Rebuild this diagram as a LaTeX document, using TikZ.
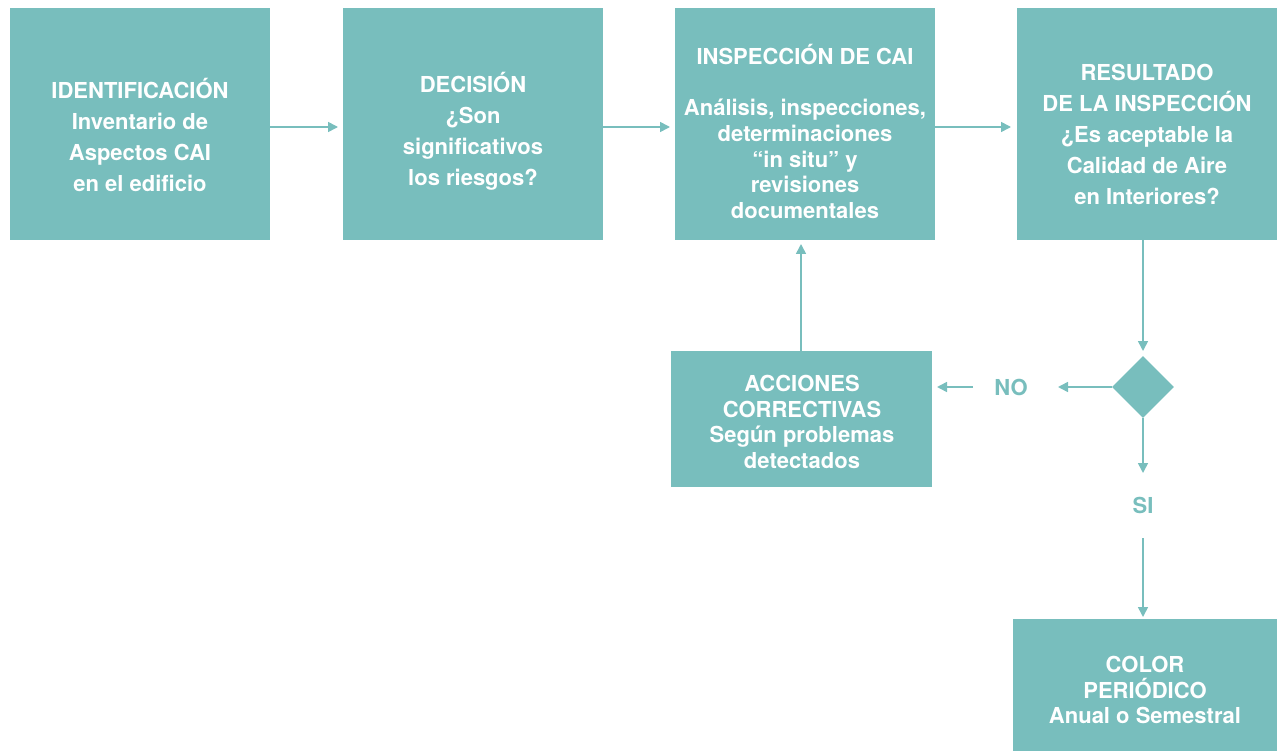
\documentclass[tikz,border=0pt]{standalone}
\usepackage{fontspec}
\setmainfont{TeX Gyre Heros}
\usetikzlibrary{arrows.meta,shapes.geometric}
\definecolor{teal1}{HTML}{78BEBD}
\tikzset{
  box/.style={fill=teal1, draw=none, inner sep=0pt, anchor=north west},
  btxt/.style={text=white, align=center, font=\bfseries\fontsize{22}{31}\selectfont, inner sep=0pt},
  btxts/.style={text=white, align=center, font=\bfseries\fontsize{22}{25.7}\selectfont, inner sep=0pt},
  lbl/.style={text=teal1, font=\bfseries\fontsize{22}{26}\selectfont, inner sep=0pt},
  conn/.style={draw=teal1, line width=1.6pt, -{Triangle[length=10pt,width=10pt]}}
}
\begin{document}
\begin{tikzpicture}[x=1pt,y=-1pt]
\useasboundingbox (0,0) rectangle (1277,751);
% boxes
\node[box, minimum width=260pt, minimum height=232pt] (b1) at (10,8) {};
\node[box, minimum width=260pt, minimum height=232pt] (b2) at (343,8) {};
\node[box, minimum width=260pt, minimum height=232pt] (b3) at (675,8) {};
\node[box, minimum width=260pt, minimum height=232pt] (b4) at (1017,8) {};
\node[box, minimum width=261pt, minimum height=136pt] (b5) at (671,351) {};
\node[box, minimum width=264pt, minimum height=140pt] (b6) at (1013,619) {};
\node[diamond, fill=teal1, minimum width=62pt, minimum height=62pt, inner sep=0pt] (d) at (1143,387) {};
% texts
\node[btxt] (t1) at (140,134.5) {IDENTIFICACIÓN\\Inventario de\\Aspectos CAI\\en el edificio};
\node[btxt] (t2) at (473,131.5) {DECISIÓN\\¿Son\\significativos\\los riesgos?};
\node[btxts] (t3) at (805,131.5) {INSPECCIÓN DE CAI\\[25.7pt]Análisis, inspecciones,\\determinaciones\\“in situ” y\\revisiones\\documentales};
\node[btxt] (t4) at (1147,134) {RESULTADO\\DE LA INSPECCIÓN\\¿Es aceptable la\\Calidad de Aire\\en Interiores?};
\node[btxts] (t5) at (802,422) {ACCIONES\\CORRECTIVAS\\Según problemas\\detectados};
\node[btxts] (t6) at (1145,690) {COLOR\\PERIÓDICO\\Anual o Semestral};
\node[lbl] (no) at (1011,387) {NO};
\node[lbl] (si) at (1143,505) {SI};
% connectors
\coordinate (a1e) at (338,127);
\coordinate (a2e) at (670,127);
\coordinate (a3e) at (1011,127);
\draw[conn] (b1.east |- 0,127) -- (a1e);
\draw[conn] (b2.east |- 0,127) -- (a2e);
\draw[conn] (b3.east |- 0,127) -- (a3e);
\coordinate (a4e) at (1143,351);
\draw[conn] (b4.south -| 1143,0) -- (a4e);
\coordinate (noR) at (1058,387);
\draw[conn] (d.west) -- (noR);
\coordinate (noL) at (973,387);
\coordinate (b5R) at (937,387);
\draw[conn] (noL) -- (b5R);
\coordinate (b3B) at (801,244);
\draw[conn] (b5.north -| 801,0) -- (b3B);
\coordinate (siT) at (1143,473);
\draw[conn] (d.south) -- (siT);
\coordinate (siB) at (1143,538);
\coordinate (b6T) at (1143,617);
\draw[conn] (siB) -- (b6T);
\end{tikzpicture}
\end{document}
